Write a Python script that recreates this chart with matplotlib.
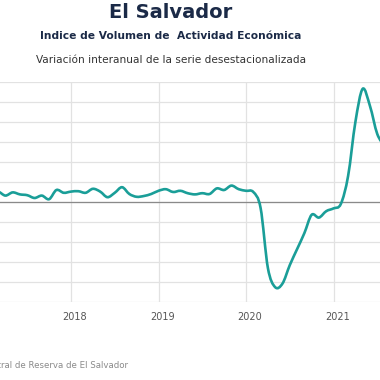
import matplotlib
matplotlib.use("Agg")
import matplotlib.pyplot as plt
from matplotlib.path import Path
from matplotlib.patches import PathPatch
from matplotlib.transforms import ScaledTranslation

# monthly index, 0 = Jan 2017
months = list(range(0, 56))
# variacion interanual (%) IVAE desestacionalizado
ivae = [2.0, 2.2, 2.6, 1.6, 2.4, 1.9, 1.7, 1.0, 1.6, 0.7,
        3.0, 2.3, 2.6, 2.7, 2.3, 3.3, 2.6, 1.2, 2.3, 3.7,
        2.0, 1.3, 1.5, 2.0, 2.8, 3.2, 2.5, 2.8, 2.2, 1.9,
        2.2, 2.0, 3.4, 3.0, 4.1, 3.2, 2.8, 2.5, -1.5, -16.5,
        -21.3, -20.4, -15.8, -11.8, -7.8, -3.2, -3.9, -2.3, -1.6, -0.5,
        6.5, 20.0, 28.3, 24.0, 17.0, 14.0]

year_ticks = [12, 24, 36, 48]
year_labels = ["2018", "2019", "2020", "2021"]

teal = "#1a9e98"
navy = "#1b2a47"


def smooth_path(xs, ys):
    # catmull-rom through the points, drawn as cubic bezier segments
    verts = [(xs[0], ys[0])]
    codes = [Path.MOVETO]
    n = len(xs)
    for i in range(n - 1):
        x0, y0 = xs[max(i - 1, 0)], ys[max(i - 1, 0)]
        x1, y1 = xs[i], ys[i]
        x2, y2 = xs[i + 1], ys[i + 1]
        x3, y3 = xs[min(i + 2, n - 1)], ys[min(i + 2, n - 1)]
        verts += [(x1 + (x2 - x0) / 6, y1 + (y2 - y0) / 6),
                  (x2 - (x3 - x1) / 6, y2 - (y3 - y1) / 6),
                  (x2, y2)]
        codes += [Path.CURVE4] * 3
    return Path(verts, codes)


fig = plt.figure(figsize=(3.8, 3.8), dpi=100)
ax = fig.add_axes([0, 0.2053, 1, 0.5789])

ax.add_patch(PathPatch(smooth_path(months, ivae), facecolor="none", edgecolor=teal,
                       lw=1.9, capstyle="round", joinstyle="round", zorder=3))
ax.axhline(0, color="#8a8a8a", lw=0.9, zorder=2)

ax.set_xlim(2.263, 54.375)
ax.set_ylim(-25, 30)
ax.set_yticks(range(-25, 31, 5))
ax.set_xticks(year_ticks)
ax.set_xticklabels(year_labels)
ax.grid(True, color="#e2e2e2", lw=0.9, zorder=1)
ax.tick_params(axis="y", left=False, labelleft=False)
ax.tick_params(axis="x", length=0, pad=7, labelsize=7, labelcolor="#555555")
for sp in ax.spines.values():
    sp.set_visible(False)

# labels sit a bit right of the gridlines
for lab in ax.get_xticklabels():
    lab.set_transform(lab.get_transform() + ScaledTranslation(4 / 100, 0, fig.dpi_scale_trans))

fig.text(0.45, 0.968, "El Salvador", ha="center", va="center",
         fontsize=14, fontweight="bold", color=navy)
fig.text(0.45, 0.905, "Indice de Volumen de  Actividad Económica", ha="center", va="center",
         fontsize=7.7, fontweight="bold", color=navy)
fig.text(0.45, 0.843, "Variación interanual de la serie desestacionalizada", ha="center", va="center",
         fontsize=7.6, color="#333333")
fig.text(128 / 380, 0.037, "Fuente: Banco Central de Reserva de El Salvador", ha="right", va="center",
         fontsize=6.2, color="#8a8a8a")

fig.savefig("out.png", dpi=100)
